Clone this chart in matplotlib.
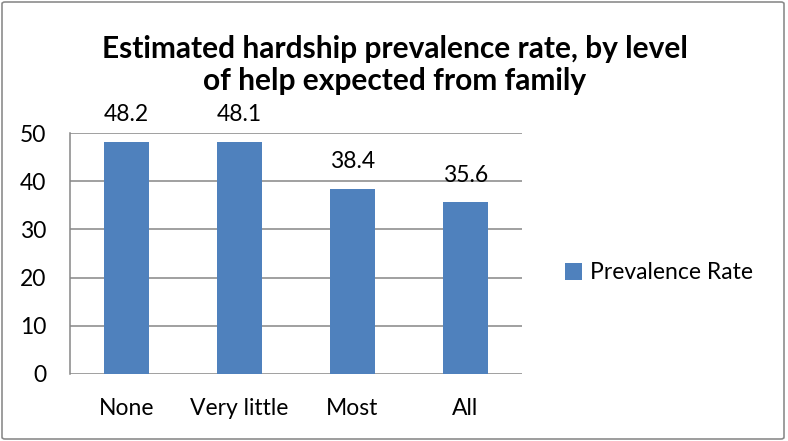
import matplotlib
matplotlib.use("Agg")
import matplotlib.pyplot as plt
from matplotlib.patches import FancyBboxPatch

categories = ["None", "Very little", "Most", "All"]
prevalence = [48.2, 48.1, 38.4, 35.6]
y_ticks = [0, 10, 20, 30, 40, 50]
series_name = "Prevalence Rate"
title = "Estimated hardship prevalence rate, by level\nof help expected from family"

plt.rcParams["font.family"] = ["Lato", "DejaVu Sans"]

W, H = 788, 441
fig = plt.figure(figsize=(W / 100, H / 100), dpi=100)

# outer chart border
fig.patches.append(FancyBboxPatch((2 / W, 2 / H), 1 - 6 / W, 1 - 4 / H,
                                  boxstyle="round,pad=0,rounding_size=0.004",
                                  transform=fig.transFigure, fill=False,
                                  edgecolor="#8c8c8c", linewidth=1.2))

ax = fig.add_axes([70 / W, (H - 374) / H, (522 - 70) / W, (374 - 133) / H])
bar_color = "#4F81BD"
x = list(range(len(categories)))
bars = ax.bar(x, prevalence, width=0.39, color=bar_color, label=series_name, zorder=3)

fs = 16.5
ax.set_xlim(-0.5, len(categories) - 0.5)
ax.set_ylim(0, 50)
ax.set_yticks(y_ticks)
ax.set_xticks(x)
ax.set_xticklabels(categories)
ax.tick_params(axis="both", length=0, labelsize=fs, colors="black")
ax.tick_params(axis="y", pad=17)
ax.tick_params(axis="x", pad=17)

for yt in y_ticks:
    ax.axhline(yt, color="#868686", linewidth=1.1, zorder=1)
for side in ["top", "right", "bottom"]:
    ax.spines[side].set_visible(False)
ax.spines["left"].set_color("#868686")
ax.spines["left"].set_linewidth(1.1)

for xi, v in zip(x, prevalence):
    ax.annotate(f"{v}", (xi, v), xytext=(0, 12), textcoords="offset points",
                ha="center", va="bottom", fontsize=fs, zorder=4)

fig.text(395 / W, 1 - 65 / H, title, ha="center", va="center",
         fontsize=21.5, fontweight="bold", linespacing=1.2)

leg = ax.legend(loc="center left", bbox_to_anchor=(1.075, 0.42), frameon=False,
                fontsize=fs, handlelength=0.75, handleheight=0.75,
                handletextpad=0.35, borderaxespad=0)

fig.savefig("out.png", dpi=100)
